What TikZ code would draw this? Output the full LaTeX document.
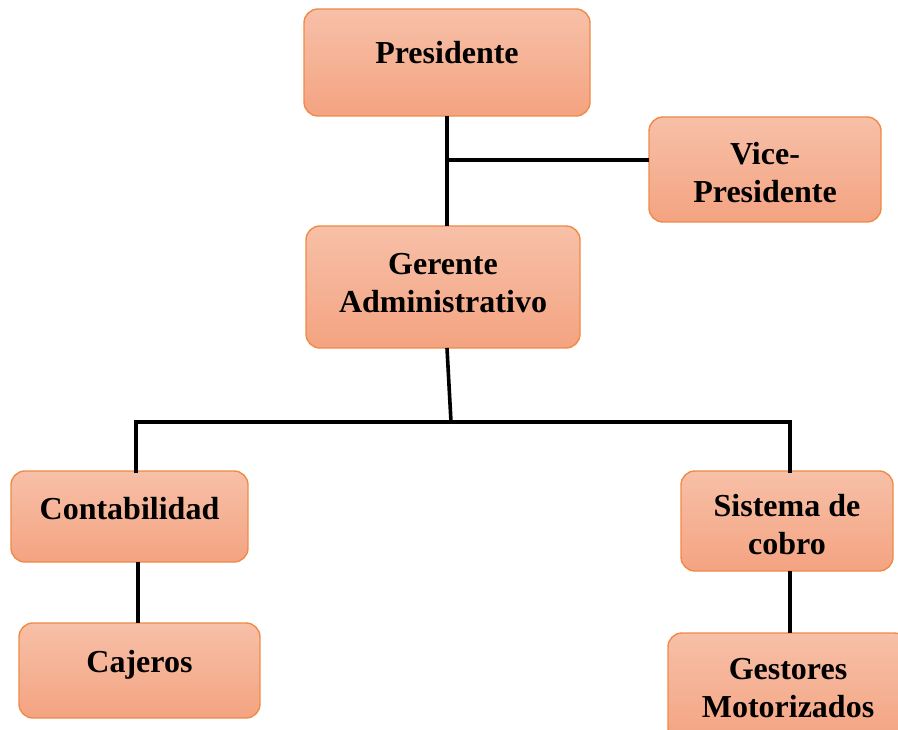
\documentclass[tikz,border=0pt]{standalone}
\usepackage{fontspec}
\setmainfont{Liberation Serif}
\usetikzlibrary{calc}
\definecolor{boxtop}{HTML}{F7C0A8}
\definecolor{boxbot}{HTML}{F4A381}
\definecolor{boxline}{HTML}{EF8A47}
\tikzset{
  orgbox/.style={draw=boxline, line width=1.4pt, rounded corners=14pt,
    top color=boxtop, bottom color=boxbot, inner sep=0pt, outer sep=0pt},
  orgtxt/.style={font=\fontsize{32}{38}\selectfont\bfseries, align=center, inner sep=0pt},
  conn/.style={line width=3.6pt, black}
}
\begin{document}
\begin{tikzpicture}[x=1pt,y=-1pt]
\useasboundingbox (0,0) rectangle (898,730);
\clip (0,0) rectangle (898,730);
% boxes
\node[orgbox, minimum width=286pt, minimum height=107pt] (pres) at (447,62.5) {};
\node[orgbox, minimum width=232pt, minimum height=105pt] (vice) at (765,169.5) {};
\node[orgbox, minimum width=274pt, minimum height=122pt] (ger) at (443,287) {};
\node[orgbox, minimum width=237pt, minimum height=91pt] (cont) at (129.5,516.5) {};
\node[orgbox, minimum width=241pt, minimum height=95pt] (caj) at (139.5,670.5) {};
\node[orgbox, minimum width=212pt, minimum height=100pt] (sis) at (787,521) {};
\node[orgbox, minimum width=240pt, minimum height=110pt] (gest) at (788,688) {};
% texts
\node[orgtxt] (tpres) at ($(pres.center)+(0,-10)$) {Presidente};
\node[orgtxt] (tvice) at ($(vice.center)+(0,3)$) {Vice-\\Presidente};
\node[orgtxt] (tger) at ($(ger.center)+(0,-4)$) {Gerente\\Administrativo};
\node[orgtxt] (tcont) at ($(cont.center)+(0,-8)$) {Contabilidad};
\node[orgtxt] (tcaj) at ($(caj.center)+(0,-6)$) {Cajeros};
\node[orgtxt] (tsis) at ($(sis.center)+(0,4)$) {Sistema de\\cobro};
\node[orgtxt] (tgest) at ($(gest.center)+(0,0)$) {Gestores\\Motorizados};
% connectors
\coordinate (vj) at (447,160);
\coordinate (gb) at (451,422);
\coordinate (bl) at (136,422);
\coordinate (br) at (790,422);
\coordinate (cl) at (138,600);
\coordinate (sl) at (790,600);
\draw[conn] (pres.south) -- (pres.south |- ger.north);
\draw[conn] (vj) -- (vice.west |- vj);
\draw[conn] ($(ger.south)+(4,0)$) -- (gb);
\draw[conn, line cap=rect] (bl |- cont.north) -- (bl) -- (br) -- (br |- sis.north);
\draw[conn] (cl |- cont.south) -- (cl |- caj.north);
\draw[conn] (sl |- sis.south) -- (sl |- gest.north);
\end{tikzpicture}
\end{document}
